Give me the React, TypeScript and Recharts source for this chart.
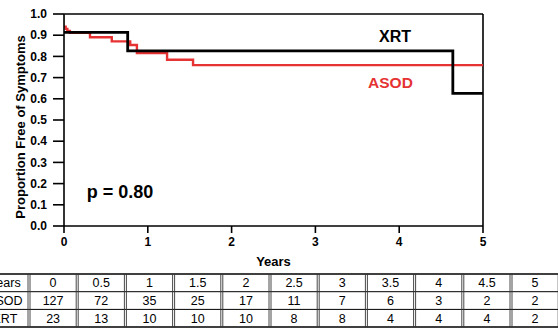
import React from 'react';
import { LineChart, Line, XAxis, YAxis, ReferenceLine, ReferenceDot } from 'recharts';

const xrtCurve = [
  { x: 0, y: 0.913 },
  { x: 0.76, y: 0.826 },
  { x: 4.64, y: 0.626 },
  { x: 5, y: 0.626 },
];

const asodCurve = [
  { x: 0, y: 0.94 },
  { x: 0.02, y: 0.93 },
  { x: 0.04, y: 0.92 },
  { x: 0.07, y: 0.911 },
  { x: 0.31, y: 0.89 },
  { x: 0.57, y: 0.871 },
  { x: 0.79, y: 0.854 },
  { x: 0.87, y: 0.816 },
  { x: 1.23, y: 0.784 },
  { x: 1.54, y: 0.759 },
  { x: 5, y: 0.759 },
];

const startMark = [
  { x: 0, y: 1.0 },
  { x: 0, y: 0.935 },
];

const xTicks = [0, 1, 2, 3, 4, 5];
const yTicks = [0, 0.1, 0.2, 0.3, 0.4, 0.5, 0.6, 0.7, 0.8, 0.9, 1.0];

const tableYears = ['Years', '0', '0.5', '1', '1.5', '2', '2.5', '3', '3.5', '4', '4.5', '5'];
const tableAsod = ['ASOD', '127', '72', '35', '25', '17', '11', '7', '6', '3', '2', '2'];
const tableXrt = ['XRT', '23', '13', '10', '10', '10', '8', '8', '4', '4', '4', '2'];

const FONT = 'Liberation Sans, Arial, Helvetica, sans-serif';
const RED = '#e63232';

const RiskTable = () => {
  const rows = [tableYears, tableAsod, tableXrt];
  const colW = 48.2;
  const x0 = 29 - colW;
  const top = 274;
  const rowH = 17.7;
  const nCols = tableYears.length;
  const vLines: React.ReactNode[] = [];
  for (let c = 1; c <= nCols; c++) {
    const x = x0 + c * colW;
    vLines.push(
      <g key={'v' + c}>
        <line x1={x - 1} x2={x - 1} y1={top} y2={top + 3 * rowH} stroke="#333" strokeWidth={0.9} />
        <line x1={x + 1} x2={x + 1} y1={top} y2={top + 3 * rowH} stroke="#333" strokeWidth={0.9} />
      </g>
    );
  }
  return (
    <svg width={558} height={331} style={{ position: 'absolute', left: 0, top: 0, pointerEvents: 'none' }}>
      <line x1={0} x2={558} y1={top} y2={top} stroke="#000" strokeWidth={1.5} />
      <line x1={0} x2={558} y1={top + rowH} y2={top + rowH} stroke="#000" strokeWidth={1} />
      <line x1={0} x2={558} y1={top + 2 * rowH} y2={top + 2 * rowH} stroke="#000" strokeWidth={1} />
      <line x1={0} x2={558} y1={top + 3 * rowH} y2={top + 3 * rowH} stroke="#000" strokeWidth={1.5} />
      {vLines}
      {rows.map((row, r) =>
        row.map((v, c) => (
          <text
            key={r + '-' + c}
            x={x0 + c * colW + colW / 2}
            y={top + r * rowH + rowH / 2 + 4.5}
            textAnchor="middle"
            fontSize={12.5}
            fontFamily={FONT}
            fill="#000"
          >
            {v}
          </text>
        ))
      )}
    </svg>
  );
};

const YTitle = (props: any) => {
  const vb = props.viewBox || { x: 0, y: 14, width: 64, height: 212 };
  const cx = 25;
  const cy = vb.y + vb.height / 2 + 7;
  return (
    <text
      x={cx}
      y={cy}
      transform={`rotate(-90, ${cx}, ${cy})`}
      textAnchor="middle"
      fontSize={13}
      fontWeight="bold"
      fontFamily={FONT}
      fill="#000"
    >
      Proportion Free of Symptoms
    </text>
  );
};

const XTitle = (props: any) => {
  const vb = props.viewBox || { x: 64, y: 226, width: 419, height: 46 };
  return (
    <text
      x={vb.x + vb.width / 2}
      y={266}
      textAnchor="middle"
      fontSize={13}
      fontWeight="bold"
      fontFamily={FONT}
      fill="#000"
    >
      Years
    </text>
  );
};

export default function App() {
  return (
    <div
      style={{
        position: 'absolute',
        left: 0,
        top: 0,
        width: 558,
        height: 331,
        background: '#fff',
        fontFamily: FONT,
      }}
    >
      <LineChart width={558} height={272} margin={{ top: 14, right: 75, left: 0, bottom: 0 }}>
        <XAxis
          type="number"
          dataKey="x"
          domain={[0, 5]}
          ticks={xTicks}
          allowDataOverflow
          height={46}
          tickSize={7}
          tickMargin={4}
          axisLine={{ stroke: '#000', strokeWidth: 1.6 }}
          tickLine={{ stroke: '#000', strokeWidth: 1.6 }}
          tick={{ fill: '#000', fontSize: 12, fontWeight: 'bold', fontFamily: FONT }}
          label={{ content: XTitle }}
        />
        <YAxis
          type="number"
          domain={[0, 1]}
          ticks={yTicks}
          allowDataOverflow
          width={64}
          tickSize={11}
          tickMargin={6}
          tickFormatter={(v: number) => v.toFixed(1)}
          axisLine={{ stroke: '#000', strokeWidth: 1.6 }}
          tickLine={{ stroke: '#000', strokeWidth: 1.6 }}
          tick={{ fill: '#000', fontSize: 12, fontWeight: 'bold', fontFamily: FONT }}
          label={{ content: YTitle }}
        />
        <ReferenceLine y={1} stroke="#000" strokeWidth={1.6} />
        <ReferenceLine x={5} stroke="#000" strokeWidth={1.6} />
        <Line
          data={startMark}
          dataKey="y"
          type="linear"
          stroke="#8aa86a"
          strokeWidth={1}
          dot={false}
          activeDot={false}
          isAnimationActive={false}
        />
        <Line
          data={asodCurve}
          dataKey="y"
          type="stepAfter"
          stroke={RED}
          strokeWidth={2.4}
          dot={false}
          activeDot={false}
          isAnimationActive={false}
        />
        <Line
          data={xrtCurve}
          dataKey="y"
          type="stepAfter"
          stroke="#000"
          strokeWidth={2.8}
          dot={false}
          activeDot={false}
          isAnimationActive={false}
        />
        <ReferenceDot
          x={3.95}
          y={0.896}
          r={0}
          fill="none"
          stroke="none"
          label={{ value: 'XRT', position: 'center', fill: '#000', fontSize: 16, fontWeight: 'bold', fontFamily: FONT }}
        />
        <ReferenceDot
          x={3.896}
          y={0.675}
          r={0}
          fill="none"
          stroke="none"
          label={{ value: 'ASOD', position: 'center', fill: RED, fontSize: 15.5, fontWeight: 'bold', fontFamily: FONT }}
        />
        <ReferenceDot
          x={0.668}
          y={0.16}
          r={0}
          fill="none"
          stroke="none"
          label={{ value: 'p = 0.80', position: 'center', fill: '#000', fontSize: 18, fontWeight: 'bold', fontFamily: FONT }}
        />
      </LineChart>
      <RiskTable />
    </div>
  );
}
